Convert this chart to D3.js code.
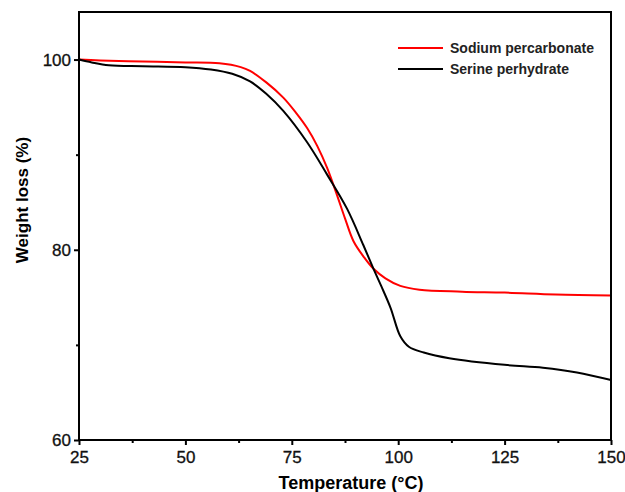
<!DOCTYPE html>
<html>
<head>
<meta charset="utf-8">
<script src="https://cdn.jsdelivr.net/npm/d3@7"></script>
<style>
  body { margin: 0; background: #fff; }
  text { font-family: "Liberation Sans", Arial, sans-serif; }
</style>
</head>
<body>
<div id="chart"></div>
<script>
const width = 625;
const height = 492;

// Sodium percarbonate (red)
const naTemp = [25, 30, 40, 50, 58, 63, 65.2, 69, 73, 76, 78.6, 81, 83.3, 85.5, 87.5, 89.5, 92, 94.2, 97, 100.5, 105, 115, 125, 137, 150];
const naWeight = [100, 99.9, 99.8, 99.7, 99.6, 99.2, 98.8, 97.6, 96.0, 94.4, 92.8, 90.9, 88.6, 85.9, 83.3, 80.9, 79.2, 78.0, 77.0, 76.2, 75.8, 75.6, 75.5, 75.3, 75.2];

// Serine perhydrate (black)
const serTemp = [25, 28, 32, 40, 50, 56, 61, 65.2, 69, 73, 78.6, 83.3, 88, 91.8, 94.2, 96, 98.2, 100.5, 102.5, 106, 112, 125, 134, 142, 150];
const serWeight = [100, 99.7, 99.4, 99.3, 99.2, 98.95, 98.5, 97.7, 96.4, 94.6, 91.3, 87.9, 84.3, 80.5, 78.0, 76.2, 73.9, 70.9, 69.8, 69.2, 68.6, 67.9, 67.6, 67.1, 66.3];

const xTicks = [25, 50, 75, 100, 125, 150];
const yTicks = [60, 80, 100];
const seriesNames = ["Sodium percarbonate", "Serine perhydrate"];
const seriesColors = ["#ff0000", "#000000"];

const margin = { left: 79, right: 14, top: 12, bottom: 52 };

const svg = d3.select("#chart")
    .append("svg")
    .attr("width", width)
    .attr("height", height);

const x = d3.scaleLinear().domain([25, 150]).range([margin.left, width - margin.right]);
const y = d3.scaleLinear().domain([60, 105]).range([height - margin.bottom, margin.top]);

// curves
const line = d3.line()
    .x(d => x(d[0]))
    .y(d => y(d[1]))
    .curve(d3.curveCatmullRom.alpha(0.5));

const series = [
    d3.zip(naTemp, naWeight),
    d3.zip(serTemp, serWeight)
];

svg.append("g")
    .selectAll("path")
    .data(series)
    .enter().append("path")
    .attr("d", line)
    .attr("fill", "none")
    .attr("stroke", (d, i) => seriesColors[i])
    .attr("stroke-width", 2);

// frame
svg.append("rect")
    .attr("x", x(25))
    .attr("y", y(105))
    .attr("width", x(150) - x(25))
    .attr("height", y(60) - y(105))
    .attr("fill", "none")
    .attr("stroke", "#000")
    .attr("stroke-width", 2);

// axes
const xAxis = svg.append("g")
    .attr("transform", `translate(0,${y(60)})`)
    .call(d3.axisBottom(x).tickValues(xTicks).tickSize(5).tickPadding(6));
svg.append("g")
    .attr("transform", `translate(0,${y(60)})`)
    .call(d3.axisBottom(x).tickValues(d3.range(37.5, 150, 25)).tickSize(3).tickFormat(""))
    .call(g => g.select(".domain").remove())
    .selectAll("line").attr("stroke-width", 2);

const yAxis = svg.append("g")
    .attr("transform", `translate(${x(25)},0)`)
    .call(d3.axisLeft(y).tickValues(yTicks).tickSize(5).tickPadding(3));
svg.append("g")
    .attr("transform", `translate(${x(25)},0)`)
    .call(d3.axisLeft(y).tickValues([70, 90]).tickSize(3).tickFormat(""))
    .call(g => g.select(".domain").remove())
    .selectAll("line").attr("stroke-width", 2);

[xAxis, yAxis].forEach(g => {
    g.select(".domain").remove();
    g.selectAll("line").attr("stroke-width", 2);
    g.selectAll("text")
        .attr("font-size", 17)
        .attr("fill", "#111")
        .attr("stroke", "#111")
        .attr("stroke-width", 0.3)
        .style("font-family", "'Liberation Sans', Arial, sans-serif");
});

// axis titles
svg.append("text")
    .attr("x", (x(25) + x(150)) / 2 + 6)
    .attr("y", 489)
    .attr("text-anchor", "middle")
    .attr("font-size", 18)
    .attr("font-weight", "bold")
    .text("Temperature (°C)");

svg.append("text")
    .attr("transform", `translate(28,200) rotate(-90)`)
    .attr("text-anchor", "middle")
    .attr("font-size", 17)
    .attr("font-weight", "bold")
    .text("Weight loss (%)");

// legend
const legend = svg.append("g");
seriesNames.forEach((name, i) => {
    const ly = 48 + i * 21;
    legend.append("line")
        .attr("x1", 398).attr("x2", 443)
        .attr("y1", ly).attr("y2", ly)
        .attr("stroke", seriesColors[i])
        .attr("stroke-width", 2);
    legend.append("text")
        .attr("x", 450)
        .attr("y", ly + 5)
        .attr("font-size", 14)
        .attr("font-weight", "bold")
        .attr("fill", "#222")
        .text(name);
});
</script>
</body>
</html>
